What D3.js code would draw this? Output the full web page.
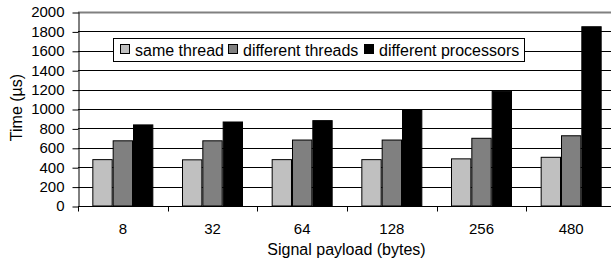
<!DOCTYPE html>
<html>
<head>
<meta charset="utf-8">
<title>Signal latency</title>
<script src="https://d3js.org/d3.v7.min.js"></script>
<style>
  body { margin: 0; background: #fff; }
  text { font-family: "Liberation Sans", Arial, sans-serif; }
</style>
</head>
<body>
<div id="chart"></div>
<script>
// payload sizes (bytes) and times (us) per series
var payloads = ["8", "32", "64", "128", "256", "480"];
var seriesNames = ["same thread", "different threads", "different processors"];
var sameThread = [478, 476, 478, 478, 486, 502];
var diffThreads = [672, 672, 680, 680, 698, 724];
var diffProcs = [836, 866, 880, 990, 1184, 1848];
var yTicks = [0, 200, 400, 600, 800, 1000, 1200, 1400, 1600, 1800, 2000];
var colors = ["#c0c0c0", "#808080", "#000000"];

var width = 611, height = 261;
var margin = {top: 12, right: -5, bottom: 55, left: 78};

var svg = d3.select("#chart").append("svg")
    .attr("width", width)
    .attr("height", height);

var x = d3.scaleBand()
    .domain(payloads)
    .range([margin.left, width - margin.right]);

var x1 = d3.scaleBand()
    .domain(seriesNames)
    .range([0, 61]);

var y = d3.scaleLinear()
    .domain([0, 2000])
    .range([height - margin.bottom, margin.top]);

// gridlines
svg.append("g")
  .selectAll("line")
  .data(yTicks.filter(function(d) { return d > 0; }))
  .enter().append("line")
    .attr("x1", margin.left)
    .attr("x2", width)
    .attr("y1", function(d) { return Math.round(y(d)) + 0.5; })
    .attr("y2", function(d) { return Math.round(y(d)) + 0.5; })
    .attr("stroke", function(d) { return d == 2000 ? "#808080" : "#000"; })
    .attr("stroke-width", function(d) { return d == 2000 ? 2 : 1; });

// y axis
var yAxis = svg.append("g")
    .attr("transform", "translate(" + (margin.left + 0.5) + ",0)")
    .call(d3.axisLeft(y).tickValues(yTicks).tickFormat(d3.format("d"))
      .tickSize(6).tickSizeOuter(0).tickPadding(8));
yAxis.selectAll("text").style("font-size", "15px").attr("fill", "#000");
yAxis.selectAll("line, path").attr("stroke", "#000");
yAxis.selectAll(".tick line").attr("transform", "translate(0,0.5)");

// bars
var rows = payloads.map(function(p, i) {
  return {payload: p, vals: [sameThread[i], diffThreads[i], diffProcs[i]]};
});

var groups = svg.append("g").selectAll("g")
  .data(rows)
  .enter().append("g")
    .attr("transform", function(d) { return "translate(" + (x(d.payload) + (x.bandwidth() - 61) / 2) + ",0)"; });

groups.selectAll("rect")
  .data(function(d) { return d.vals.map(function(v, k) { return {name: seriesNames[k], v: v, k: k}; }); })
  .enter().append("rect")
    .attr("x", function(d) { return x1(d.name) + 0.5; })
    .attr("y", function(d) { return y(d.v); })
    .attr("width", x1.bandwidth() - 1)
    .attr("height", function(d) { return y(0) - y(d.v); })
    .attr("fill", function(d) { return colors[d.k]; })
    .attr("stroke", "#000")
    .attr("stroke-width", 1);

// x axis
var xAxis = svg.append("g")
    .attr("transform", "translate(0," + (Math.round(y(0)) + 0.5) + ")")
    .call(d3.axisBottom(x).tickSize(0).tickPadding(17));
xAxis.select(".domain").attr("stroke", "#000").attr("d", "M" + margin.left + ",0H" + width);
xAxis.selectAll("text").style("font-size", "15px").attr("fill", "#000");
// ticks between categories
xAxis.selectAll(".sep")
  .data(payloads)
  .enter().append("line")
    .attr("class", "sep")
    .attr("x1", function(d) { return Math.round(x(d)) + 0.5; })
    .attr("x2", function(d) { return Math.round(x(d)) + 0.5; })
    .attr("y1", 0)
    .attr("y2", 5)
    .attr("stroke", "#000");

// axis titles
svg.append("text")
    .attr("transform", "translate(22,107.5) rotate(-90)")
    .attr("text-anchor", "middle")
    .style("font-size", "16px")
    .text("Time (µs)");

svg.append("text")
    .attr("x", 346.5)
    .attr("y", 254.5)
    .attr("text-anchor", "middle")
    .style("font-size", "16px")
    .text("Signal payload (bytes)");

// legend
var legend = svg.append("g");
legend.append("rect")
    .attr("x", 113.5).attr("y", 38.5)
    .attr("width", 411).attr("height", 23)
    .attr("fill", "#fff").attr("stroke", "#000");

var legendX = [120, 228, 364];
var items = legend.selectAll(".item")
  .data(seriesNames)
  .enter().append("g")
    .attr("class", "item")
    .attr("transform", function(d, i) { return "translate(" + legendX[i] + ",0)"; });
items.append("rect")
    .attr("x", 0.5).attr("y", 44.5)
    .attr("width", 9).attr("height", 9)
    .attr("fill", function(d, i) { return colors[i]; })
    .attr("stroke", "#000");
items.append("text")
    .attr("x", 15).attr("y", 56)
    .style("font-size", "16px")
    .text(function(d) { return d; });
</script>
</body>
</html>
